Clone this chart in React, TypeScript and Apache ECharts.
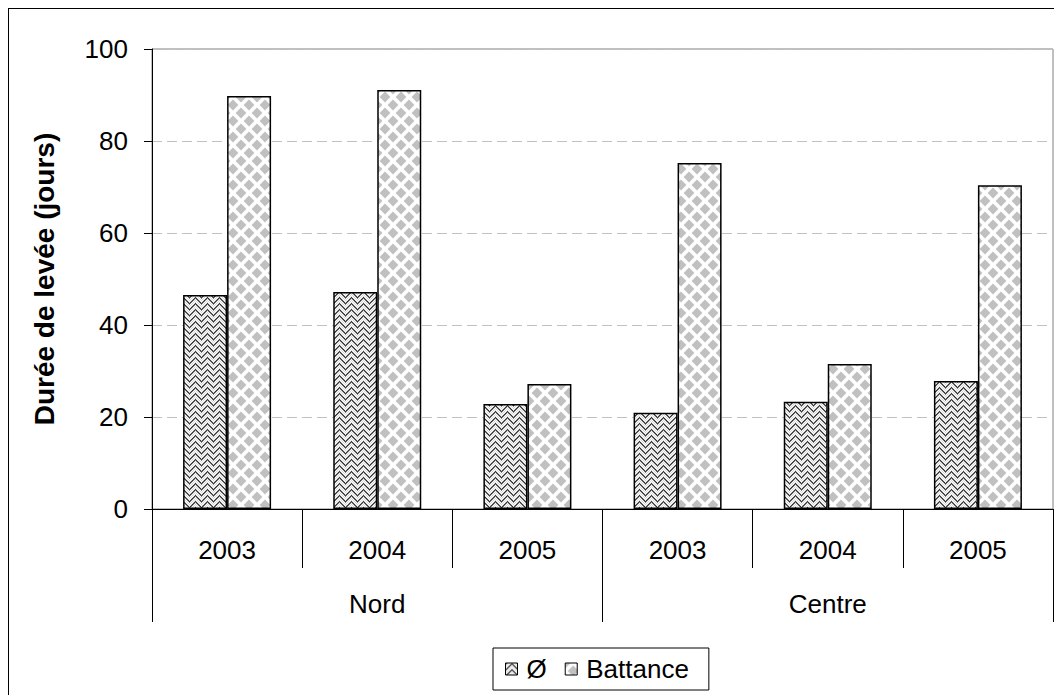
import React, { useEffect, useRef } from "react";
import * as echarts from "echarts";

const years = ["2003", "2004", "2005", "2003", "2004", "2005"];
const regions = ["Nord", "Centre"];
const seriesNames = ["Ø", "Battance"];
const valuesO = [46.5, 47.2, 22.8, 20.9, 23.3, 27.8];
const valuesBattance = [89.8, 91.1, 27.2, 75.2, 31.5, 70.4];
const yTicks = { min: 0, max: 100, interval: 20 };

const FONT = "'Liberation Sans', Arial, sans-serif";

function makeWeave(): HTMLCanvasElement {
  const n = 12;
  const c = document.createElement("canvas");
  c.width = n;
  c.height = n;
  const ctx = c.getContext("2d")!;
  const img = ctx.createImageData(n, n);
  for (let y = 0; y < n; y++) {
    for (let x = 0; x < n; x++) {
      let dark: boolean;
      if (x < 6) dark = (x + y) % 6 < 2;
      else dark = (y - x + 60) % 6 < 2;
      let v = 255;
      if (dark) v = (x + y) % 2 === 0 ? 50 : 130;
      else v = (x + y) % 2 === 0 ? 255 : 215;
      const i = (y * n + x) * 4;
      img.data[i] = v;
      img.data[i + 1] = v;
      img.data[i + 2] = v;
      img.data[i + 3] = 255;
    }
  }
  ctx.putImageData(img, 0, 0);
  return c;
}

function makeDiamonds(): HTMLCanvasElement {
  const n = 16;
  const h = 5.4;
  const c = document.createElement("canvas");
  c.width = n;
  c.height = n;
  const ctx = c.getContext("2d")!;
  ctx.fillStyle = "#ffffff";
  ctx.fillRect(0, 0, n, n);
  ctx.fillStyle = "#c0c0c0";
  const centers = [
    [n / 2, n / 2],
    [0, 0],
    [n, 0],
    [0, n],
    [n, n],
  ];
  for (const [cx, cy] of centers) {
    ctx.beginPath();
    ctx.moveTo(cx, cy - h);
    ctx.lineTo(cx + h, cy);
    ctx.lineTo(cx, cy + h);
    ctx.lineTo(cx - h, cy);
    ctx.closePath();
    ctx.fill();
  }
  return c;
}

export default function App() {
  const ref = useRef<HTMLDivElement>(null);

  useEffect(() => {
    document.documentElement.style.overflow = "hidden";
    const chart = echarts.init(ref.current!, null, { renderer: "svg" });
    const weave = makeWeave();
    const diamonds = makeDiamonds();

    chart.setOption({
      animation: false,
      textStyle: { fontFamily: FONT, color: "#000" },
      grid: {
        left: 143,
        top: 40,
        right: 9,
        bottom: 186,
        show: true,
        borderColor: "#808080",
        borderWidth: 1,
        backgroundColor: "transparent",
      },
      legend: {
        left: 484,
        top: 639,
        padding: [8, 20, 8, 12],
        borderColor: "#000",
        borderWidth: 1,
        icon: "rect",
        itemWidth: 12,
        itemHeight: 12,
        itemGap: 18,
        itemStyle: { borderColor: "#000", borderWidth: 1 },
        textStyle: { fontSize: 26, color: "#000", fontFamily: FONT, padding: [0, 0, 0, 4] },
        data: seriesNames,
      },
      xAxis: [
        {
          type: "category",
          data: years,
          position: "bottom",
          axisLine: { show: true, lineStyle: { color: "#000", width: 1 } },
          axisTick: { show: true, length: 59, lineStyle: { color: "#000" } },
          axisLabel: { fontSize: 26, color: "#000", margin: 28, fontFamily: FONT },
          splitLine: { show: false },
        },
        {
          type: "category",
          data: regions,
          position: "bottom",
          axisLine: { show: false },
          axisTick: { show: true, length: 113, lineStyle: { color: "#000" } },
          axisLabel: { fontSize: 26, color: "#000", margin: 82, fontFamily: FONT },
          splitLine: { show: false },
        },
      ],
      yAxis: {
        type: "value",
        min: yTicks.min,
        max: yTicks.max,
        interval: yTicks.interval,
        name: "Durée de levée (jours)",
        nameLocation: "middle",
        nameRotate: 90,
        nameGap: 94,
        nameTextStyle: { fontSize: 28, fontWeight: "bold", color: "#000", fontFamily: FONT },
        axisLine: { show: true, lineStyle: { color: "#000", width: 1 } },
        axisTick: { show: true, length: 8, lineStyle: { color: "#000" } },
        axisLabel: { fontSize: 26, color: "#000", margin: 24, fontFamily: FONT },
        splitLine: { show: true, lineStyle: { color: "#c0c0c0", type: [10, 5], width: 1 } },
      },
      series: [
        {
          name: seriesNames[0],
          type: "bar",
          xAxisIndex: 0,
          data: valuesO,
          barWidth: 44,
          barGap: "0%",
          itemStyle: {
            color: { image: weave, repeat: "repeat" },
            borderColor: "#000",
            borderWidth: 1.5,
          },
        },
        {
          name: seriesNames[1],
          type: "bar",
          xAxisIndex: 0,
          data: valuesBattance,
          barWidth: 44,
          barGap: "0%",
          itemStyle: {
            color: { image: diamonds, repeat: "repeat" },
            borderColor: "#000",
            borderWidth: 1.5,
          },
        },
      ],
    });
    return () => chart.dispose();
  }, []);

  return (
    <div
      style={{
        width: 1054,
        height: 687,
        boxSizing: "border-box",
        borderLeft: "1px solid #000",
        borderTop: "1px solid #000",
        background: "#fff",
      }}
    >
      <div ref={ref} style={{ width: 1053, height: 686 }} />
    </div>
  );
}
